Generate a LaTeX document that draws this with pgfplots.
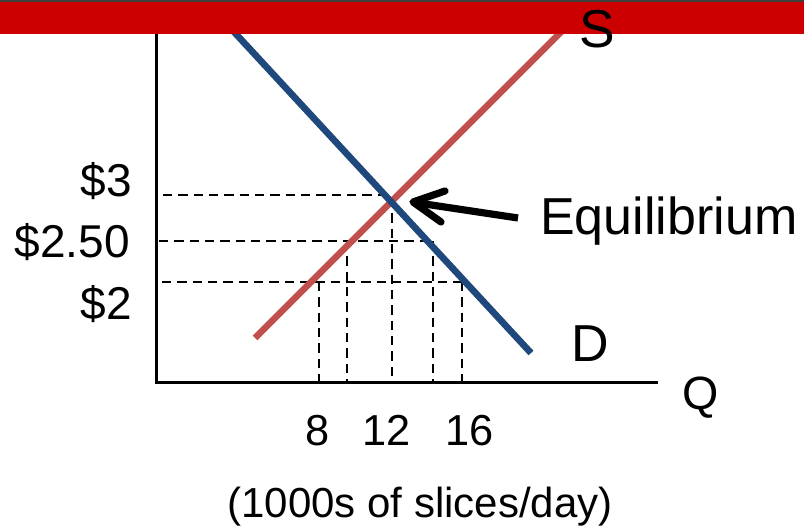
\documentclass[border=0pt]{standalone}
\usepackage{pgfplots}
\pgfplotsset{compat=1.18}
\usepackage{fontspec}
\setmainfont{Liberation Sans}
\definecolor{supply}{HTML}{C0504D}
\definecolor{demand}{HTML}{1F497D}
\definecolor{barred}{HTML}{CC0000}
\definecolor{bardark}{HTML}{3F3F3F}
\newcommand{\fs}[1]{\fontsize{#1}{#1}\selectfont}
\begin{document}
\begin{tikzpicture}
\begin{axis}[
  x=0.75pt, y=0.75pt,
  xmin=0, xmax=804, ymin=0, ymax=532,
  scale only axis, hide axis, clip=true,
]
% background (sets the picture's extent)
\addplot[fill=white, draw=none] coordinates {(0,0) (804,0) (804,532) (0,532)} -- cycle;

% dashed guide lines
\addplot[black, line width=1.6pt, dash pattern=on 7pt off 4.5pt] coordinates {(163,337) (392,337)};
\addplot[black, line width=1.6pt, dash pattern=on 7pt off 4.5pt] coordinates {(159,291) (433,291)};
\addplot[black, line width=1.6pt, dash pattern=on 7pt off 4.5pt] coordinates {(162,250) (462,250)};
\addplot[black, line width=1.6pt, dash pattern=on 7pt off 4.5pt] coordinates {(319,250) (319,151)};
\addplot[black, line width=1.6pt, dash pattern=on 7pt off 4.5pt] coordinates {(347,291) (347,149)};
\addplot[black, line width=1.6pt, dash pattern=on 7pt off 4.5pt] coordinates {(392,334) (392,151)};
\addplot[black, line width=1.6pt, dash pattern=on 7pt off 4.5pt] coordinates {(433,291) (433,151)};
\addplot[black, line width=1.6pt, dash pattern=on 7pt off 4.5pt] coordinates {(462,250) (462,151)};

% axes
\addplot[black, line width=2.25pt] coordinates {(156,512) (156,149) (658,149)};

% supply and demand
\addplot[supply, line width=5pt] coordinates {(255,194) (573,512)};
\addplot[demand, line width=5pt] coordinates {(223,512) (531,179)};

% arrow to equilibrium
\addplot[black, line width=5.4pt] coordinates {(518,314) (418,329)};
\addplot[black, line width=5.4pt, line cap=round, line join=round] coordinates {(445,341) (413,330) (441,310)};

% labels
\node[anchor=base, font=\fs{39}] at (axis cs:590,170) {D};
\node[anchor=base, font=\fs{35}] at (axis cs:701,122) {Q};
\node[anchor=base west, inner sep=0pt, font=\fs{39}] at (axis cs:540,297) {Equilibrium};
\node[anchor=base east, inner sep=0pt, font=\fs{34.5}] at (axis cs:132,335) {\$3};
\node[anchor=base east, inner sep=0pt, font=\fs{34.5}] at (axis cs:130,274) {\$2.50};
\node[anchor=base east, inner sep=0pt, font=\fs{34.5}] at (axis cs:132,212) {\$2};
\node[anchor=base, inner sep=0pt, font=\fs{32.5}] at (axis cs:318,86) {8};
\node[anchor=base, inner sep=0pt, font=\fs{32.5}] at (axis cs:387,86) {12};
\node[anchor=base, inner sep=0pt, font=\fs{32.5}] at (axis cs:470,86) {16};
\node[anchor=base, inner sep=0pt, font=\fs{31.5}] at (axis cs:420,14) {(1000s of slices/day)};

% top banner
\addplot[fill=barred, draw=none] coordinates {(0,498) (804,498) (804,530) (0,530)} -- cycle;
\addplot[fill=bardark, draw=none] coordinates {(0,530) (804,530) (804,532) (0,532)} -- cycle;

% S label drawn over the banner
\node[anchor=base, inner sep=0pt, font=\fs{40}] at (axis cs:597,484) {S};
\end{axis}
\end{tikzpicture}
\end{document}
